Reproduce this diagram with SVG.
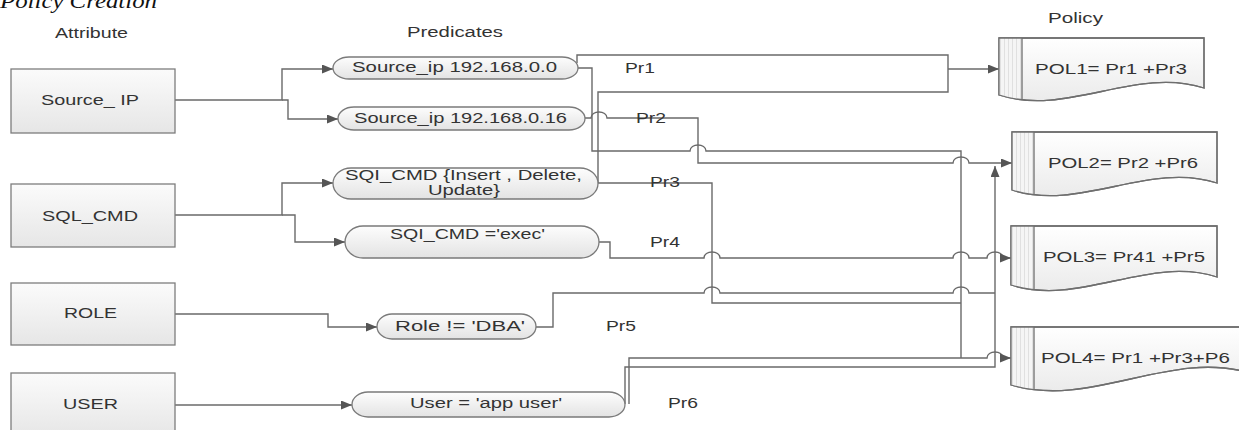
<svg xmlns="http://www.w3.org/2000/svg" xmlns:xlink="http://www.w3.org/1999/xlink" width="1239" height="430" viewBox="0 0 1239 430">
  <style>
    .lbl { font-family: "Liberation Sans", Arial, sans-serif; font-size: 15.5px; fill: #333; }
    .title { font-family: "Liberation Serif", "Times New Roman", serif; font-style: italic; font-size: 20px; fill: #111; }
    .box { fill: url(#boxFill); stroke: #7d7d7d; stroke-width: 1.3; }
    .pill { fill: url(#pillFill); stroke: #7a7a7a; stroke-width: 1.3; }
    .doc { fill: url(#docFill); stroke: #6e6e6e; stroke-width: 1.3; }
    .stripe { fill: url(#stripes); }
    .divider { stroke: #6e6e6e; stroke-width: 1.3; fill: none; }
    .wire { fill: none; stroke: #6a6a6a; stroke-width: 1.4; }
    .arrow { marker-end: url(#head); }
  </style>
  <defs>
    <linearGradient id="boxFill" x1="0" y1="0" x2="0" y2="1">
      <stop offset="0" stop-color="#fbfbfb"/>
      <stop offset="1" stop-color="#e6e6e6"/>
    </linearGradient>
    <linearGradient id="pillFill" x1="0" y1="0" x2="0" y2="1">
      <stop offset="0" stop-color="#fdfdfd"/>
      <stop offset="1" stop-color="#e3e3e3"/>
    </linearGradient>
    <linearGradient id="docFill" x1="0" y1="0" x2="0" y2="1">
      <stop offset="0" stop-color="#ffffff"/>
      <stop offset="1" stop-color="#ebebeb"/>
    </linearGradient>
    <pattern id="stripes" x="0" y="0" width="4" height="10" patternUnits="userSpaceOnUse">
      <rect width="4" height="10" fill="#f5f5f5"/>
      <rect x="0" width="1" height="10" fill="#e0e0e0"/>
    </pattern>
    <marker id="head" markerWidth="11" markerHeight="9" refX="11" refY="4.5" orient="auto" markerUnits="userSpaceOnUse">
      <path d="M0,0 L11,4.5 L0,9 Z" fill="#555"/>
    </marker>
    <!-- document outlines: flat top, wavy bottom -->
    <path id="docShape1" d="M999,38 H1204 V88 C1136,66 1067,117 999,95 Z"/>
    <path id="docShape2" d="M1012,132 H1217 V183 C1149,161 1080,212 1012,190 Z"/>
    <path id="docShape3" d="M1011,226 H1217 V277 C1148,255 1080,307 1011,285 Z"/>
    <path id="docShape4" d="M1011,327 H1250 V373 C1170,349 1091,409 1011,385 Z"/>
    <clipPath id="clipDoc1"><use xlink:href="#docShape1"/></clipPath>
    <clipPath id="clipDoc2"><use xlink:href="#docShape2"/></clipPath>
    <clipPath id="clipDoc3"><use xlink:href="#docShape3"/></clipPath>
    <clipPath id="clipDoc4"><use xlink:href="#docShape4"/></clipPath>
  </defs>

  <rect width="1239" height="430" fill="#ffffff"/>

  <!-- headings -->
  <text class="title" x="0" y="8" textLength="157" lengthAdjust="spacingAndGlyphs">Policy Creation</text>
  <text class="lbl" x="55" y="38" textLength="73" lengthAdjust="spacingAndGlyphs">Attribute</text>
  <text class="lbl" x="407" y="37" textLength="96" lengthAdjust="spacingAndGlyphs">Predicates</text>
  <text class="lbl" x="1048" y="22.5" textLength="55" lengthAdjust="spacingAndGlyphs">Policy</text>

  <!-- connectors -->
  <g id="connectors">
    <!-- attribute fan-out -->
    <path class="wire arrow" d="M175,100 H282 V69 H333"/>
    <path class="wire arrow" d="M282,100 H288 V119 H338"/>
    <path class="wire arrow" d="M175,215 H282 V183 H333"/>
    <path class="wire arrow" d="M282,215 H295 V242 H345"/>
    <path class="wire arrow" d="M175,314 H328 V327 H377"/>
    <path class="wire arrow" d="M175,405 H352"/>

    <!-- Pr1 / Pr3 into POL1 -->
    <path class="wire" d="M577,63 V55 H948 V92 H598 V183"/>
    <path class="wire arrow" d="M948,69 H999"/>
    <!-- Pr1 towards POL4 -->
    <path class="wire" d="M578,68 H592 V151 H690 c0,-8 16,-8 16,0 H961 V358"/>
    <!-- Pr2 into POL2 -->
    <path class="wire arrow" d="M585,118 H591 c0,-8 16,-8 16,0 H698 V163 H953 c0,-8 16,-8 16,0 H1012"/>
    <!-- Pr3 towards POL4 -->
    <path class="wire" d="M598,183 H712 V303 H961"/>
    <!-- Pr4 into POL3 -->
    <path class="wire arrow" d="M599,242 H610 V258 H704 c0,-8 16,-8 16,0 H953 c0,-8 16,-8 16,0 H987 c0,-8 16,-8 16,0 H1011"/>
    <!-- Pr5 -->
    <path class="wire" d="M536,327 H553 V293 H704 c0,-8 16,-8 16,0 H953 c0,-8 16,-8 16,0 H995"/>
    <!-- Pr6 into POL2 and POL4 -->
    <path class="wire arrow" d="M625,404 V367 H995 V166"/>
    <path class="wire arrow" d="M629,404 V358 H987 c0,-8 16,-8 16,0 H1011"/>
  </g>

  <!-- attributes -->
  <g id="attr-source-ip">
    <rect class="box" x="11" y="69" width="164" height="64"/>
    <text class="lbl" x="41" y="105" textLength="98" lengthAdjust="spacingAndGlyphs">Source_ IP</text>
  </g>
  <g id="attr-sql-cmd">
    <rect class="box" x="11" y="184" width="164" height="63"/>
    <text class="lbl" x="42" y="221" textLength="96" lengthAdjust="spacingAndGlyphs">SQL_CMD</text>
  </g>
  <g id="attr-role">
    <rect class="box" x="11" y="283" width="164" height="62"/>
    <text class="lbl" x="64" y="318" textLength="53" lengthAdjust="spacingAndGlyphs">ROLE</text>
  </g>
  <g id="attr-user">
    <rect class="box" x="11" y="373" width="164" height="64"/>
    <text class="lbl" x="63" y="409" textLength="55" lengthAdjust="spacingAndGlyphs">USER</text>
  </g>

  <!-- predicates -->
  <g id="pred-1">
    <rect class="pill" x="333" y="57" width="245" height="22" rx="16" ry="11"/>
    <text class="lbl" x="352" y="72" textLength="205" lengthAdjust="spacingAndGlyphs">Source_ip 192.168.0.0</text>
  </g>
  <g id="pred-2">
    <rect class="pill" x="338" y="107" width="247" height="23" rx="16" ry="11.5"/>
    <text class="lbl" x="354" y="123" textLength="213" lengthAdjust="spacingAndGlyphs">Source_ip 192.168.0.16</text>
  </g>
  <g id="pred-3">
    <rect class="pill" x="333" y="168" width="265" height="31" rx="18" ry="15.5"/>
    <text class="lbl" x="345" y="180" textLength="237" lengthAdjust="spacingAndGlyphs">SQI_CMD {Insert , Delete,</text>
    <text class="lbl" x="428" y="195" textLength="72" lengthAdjust="spacingAndGlyphs">Update}</text>
  </g>
  <g id="pred-4">
    <rect class="pill" x="345" y="226" width="254" height="32" rx="18" ry="16"/>
    <text class="lbl" x="390" y="239" textLength="155" lengthAdjust="spacingAndGlyphs">SQI_CMD ='exec'</text>
  </g>
  <g id="pred-5">
    <rect class="pill" x="377" y="314" width="159" height="25" rx="15" ry="12.5"/>
    <text class="lbl" x="395" y="331" textLength="130" lengthAdjust="spacingAndGlyphs">Role != 'DBA'</text>
  </g>
  <g id="pred-6">
    <rect class="pill" x="352" y="392" width="273" height="25" rx="16" ry="12.5"/>
    <text class="lbl" x="410" y="408" textLength="152" lengthAdjust="spacingAndGlyphs">User = 'app user'</text>
  </g>

  <!-- predicate tags -->
  <g id="tags">
    <text class="lbl" x="625" y="73" textLength="30" lengthAdjust="spacingAndGlyphs">Pr1</text>
    <text class="lbl" x="636" y="123" textLength="30" lengthAdjust="spacingAndGlyphs">Pr2</text>
    <text class="lbl" x="650" y="187" textLength="30" lengthAdjust="spacingAndGlyphs">Pr3</text>
    <text class="lbl" x="650" y="247" textLength="30" lengthAdjust="spacingAndGlyphs">Pr4</text>
    <text class="lbl" x="606" y="331" textLength="30" lengthAdjust="spacingAndGlyphs">Pr5</text>
    <text class="lbl" x="668" y="408" textLength="30" lengthAdjust="spacingAndGlyphs">Pr6</text>
  </g>

  <!-- policies -->
  <g id="pol-1">
    <use xlink:href="#docShape1" class="doc"/>
    <g clip-path="url(#clipDoc1)">
      <rect class="stripe" x="999" y="38" width="23" height="70"/>
      <line class="divider" x1="1022" y1="38" x2="1022" y2="110"/>
    </g>
    <use xlink:href="#docShape1" fill="none" stroke="#6e6e6e" stroke-width="1.3"/>
    <text class="lbl" x="1035" y="74" textLength="152" lengthAdjust="spacingAndGlyphs">POL1= Pr1 +Pr3</text>
  </g>
  <g id="pol-2">
    <use xlink:href="#docShape2" class="doc"/>
    <g clip-path="url(#clipDoc2)">
      <rect class="stripe" x="1012" y="132" width="22" height="70"/>
      <line class="divider" x1="1034" y1="132" x2="1034" y2="205"/>
    </g>
    <use xlink:href="#docShape2" fill="none" stroke="#6e6e6e" stroke-width="1.3"/>
    <text class="lbl" x="1048" y="168" textLength="150" lengthAdjust="spacingAndGlyphs">POL2= Pr2 +Pr6</text>
  </g>
  <g id="pol-3">
    <use xlink:href="#docShape3" class="doc"/>
    <g clip-path="url(#clipDoc3)">
      <rect class="stripe" x="1011" y="226" width="23" height="70"/>
      <line class="divider" x1="1034" y1="226" x2="1034" y2="300"/>
    </g>
    <use xlink:href="#docShape3" fill="none" stroke="#6e6e6e" stroke-width="1.3"/>
    <text class="lbl" x="1043" y="262" textLength="162" lengthAdjust="spacingAndGlyphs">POL3= Pr41 +Pr5</text>
  </g>
  <g id="pol-4">
    <use xlink:href="#docShape4" class="doc"/>
    <g clip-path="url(#clipDoc4)">
      <rect class="stripe" x="1011" y="327" width="23" height="75"/>
      <line class="divider" x1="1034" y1="327" x2="1034" y2="405"/>
    </g>
    <use xlink:href="#docShape4" fill="none" stroke="#6e6e6e" stroke-width="1.3"/>
    <text class="lbl" x="1041" y="363" textLength="189" lengthAdjust="spacingAndGlyphs">POL4= Pr1 +Pr3+P6</text>
  </g>
</svg>
